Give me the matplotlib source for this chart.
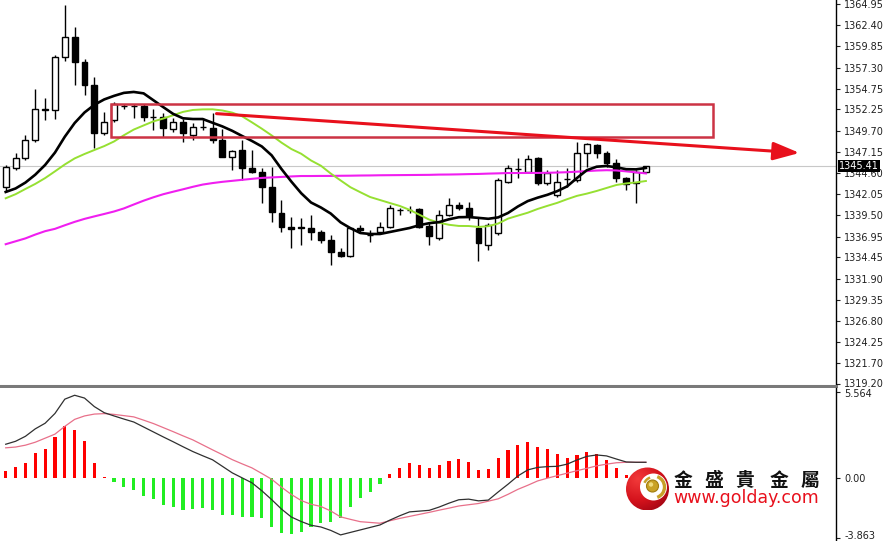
import numpy as np
import matplotlib
matplotlib.use("Agg")
import matplotlib.pyplot as plt
import matplotlib.transforms as mtransforms
from matplotlib.patches import Rectangle, Circle, Arc
from matplotlib.colors import LinearSegmentedColormap

# OHLC (66 bars)
opens = [1342.92, 1345.21, 1346.41, 1348.57, 1352.19, 1352.19, 1358.57, 1360.98, 1357.97, 1355.20,
         1349.42, 1350.98, 1352.67, 1352.67, 1352.67, 1351.34, 1351.34, 1349.90, 1350.74, 1349.17,
         1350.14, 1350.02, 1348.57, 1346.53, 1347.37, 1345.21, 1344.72, 1342.92, 1339.79, 1338.10,
         1338.05, 1337.98, 1337.50, 1336.53, 1335.09, 1334.61, 1337.98, 1337.14, 1337.50, 1338.10,
         1340.15, 1340.10, 1340.27, 1338.22, 1336.78, 1339.55, 1340.75, 1340.39, 1337.98, 1335.93,
         1337.38, 1343.52, 1345.09, 1344.72, 1346.41, 1343.40, 1341.95, 1343.88, 1343.76, 1347.01,
         1347.97, 1347.01, 1345.81, 1344.00, 1343.40, 1344.72]
highs = [1345.57, 1347.01, 1349.17, 1354.72, 1353.63, 1358.81, 1364.83, 1362.18, 1358.33, 1356.16,
         1351.95, 1353.15, 1352.91, 1352.91, 1352.91, 1352.31, 1351.83, 1351.22, 1351.10, 1350.62,
         1351.22, 1351.83, 1349.90, 1347.37, 1348.57, 1347.37, 1345.21, 1345.33, 1341.35, 1339.30,
         1339.18, 1339.55, 1337.74, 1337.14, 1335.57, 1338.10, 1338.34, 1337.74, 1338.70, 1340.75,
         1340.39, 1340.63, 1340.39, 1338.58, 1340.15, 1341.59, 1341.11, 1341.11, 1339.30, 1338.58,
         1344.00, 1345.57, 1346.41, 1346.77, 1346.53, 1344.96, 1344.96, 1345.21, 1348.33, 1348.21,
         1348.09, 1347.25, 1346.29, 1344.12, 1344.96, 1345.50]
lows = [1342.32, 1344.96, 1346.17, 1348.33, 1350.98, 1351.10, 1358.09, 1355.20, 1354.00, 1347.61,
        1349.17, 1350.74, 1352.31, 1351.22, 1350.86, 1349.78, 1348.94, 1349.54, 1348.33, 1348.57,
        1349.78, 1348.21, 1346.53, 1344.96, 1343.76, 1344.60, 1341.01, 1338.70, 1337.50, 1335.57,
        1335.93, 1336.53, 1336.17, 1333.53, 1334.49, 1334.49, 1337.38, 1336.29, 1337.38, 1338.00,
        1339.55, 1339.79, 1337.98, 1335.93, 1336.53, 1339.42, 1340.15, 1338.94, 1334.01, 1335.33,
        1337.14, 1343.40, 1344.00, 1344.60, 1343.16, 1343.16, 1341.71, 1342.92, 1343.52, 1345.33,
        1346.41, 1345.33, 1343.52, 1342.56, 1341.01, 1344.60]
closes = [1345.33, 1346.41, 1348.57, 1352.31, 1352.31, 1358.57, 1360.98, 1357.97, 1355.20, 1349.42,
          1350.74, 1352.91, 1352.70, 1352.64, 1351.34, 1351.30, 1350.02, 1350.74, 1349.42, 1350.14,
          1350.18, 1348.57, 1346.53, 1347.25, 1345.21, 1344.72, 1342.92, 1339.91, 1338.10, 1337.86,
          1337.95, 1337.50, 1336.53, 1335.09, 1334.61, 1337.98, 1337.74, 1337.18, 1338.10, 1340.39,
          1340.10, 1340.15, 1338.10, 1337.02, 1339.55, 1340.75, 1340.39, 1339.42, 1336.17, 1338.34,
          1343.76, 1345.21, 1345.05, 1346.29, 1343.40, 1344.60, 1343.52, 1343.92, 1347.01, 1348.09,
          1347.01, 1345.81, 1344.00, 1343.28, 1344.72, 1345.41]

# moving averages as drawn
ma_black = [1342.32, 1342.74, 1343.45, 1344.40, 1345.57, 1347.06, 1348.97, 1350.62, 1351.89, 1352.81,
            1353.46, 1353.89, 1354.25, 1354.36, 1354.19, 1353.36, 1352.53, 1351.72, 1351.19, 1351.10,
            1351.10, 1350.65, 1350.21, 1349.68, 1349.06, 1348.46, 1347.80, 1346.73, 1345.08, 1343.57,
            1342.17, 1341.05, 1340.45, 1339.72, 1338.66, 1337.96, 1337.38, 1337.26, 1337.26, 1337.50,
            1337.74, 1337.98, 1338.32, 1338.56, 1338.69, 1339.03, 1339.28, 1339.30, 1339.20, 1339.09,
            1339.26, 1339.79, 1340.57, 1341.22, 1341.63, 1341.98, 1342.42, 1342.99, 1344.00, 1344.94,
            1345.36, 1345.45, 1345.29, 1345.06, 1345.04, 1345.21]
ma_green = [1341.56, 1342.05, 1342.68, 1343.29, 1343.99, 1344.80, 1345.63, 1346.36, 1346.89, 1347.37,
            1347.84, 1348.40, 1349.15, 1349.83, 1350.33, 1350.82, 1351.16, 1351.56, 1351.96, 1352.19,
            1352.26, 1352.27, 1352.13, 1351.87, 1351.43, 1350.70, 1349.94, 1349.13, 1348.26, 1347.49,
            1346.92, 1346.11, 1345.48, 1344.54, 1343.71, 1342.89, 1342.29, 1341.71, 1341.35, 1340.99,
            1340.64, 1340.17, 1339.58, 1338.99, 1338.62, 1338.37, 1338.23, 1338.22, 1338.11, 1338.20,
            1338.52, 1339.11, 1339.47, 1339.82, 1340.27, 1340.65, 1341.01, 1341.45, 1341.85, 1342.12,
            1342.44, 1342.80, 1343.16, 1343.35, 1343.47, 1343.64]
ma_magenta = [1336.03, 1336.38, 1336.73, 1337.19, 1337.60, 1337.88, 1338.31, 1338.72, 1339.08, 1339.38,
              1339.67, 1339.97, 1340.34, 1340.81, 1341.27, 1341.68, 1342.05, 1342.35, 1342.64, 1342.94,
              1343.21, 1343.39, 1343.54, 1343.66, 1343.78, 1343.90, 1344.01, 1344.07, 1344.13, 1344.19,
              1344.24, 1344.24, 1344.25, 1344.25, 1344.27, 1344.28, 1344.30, 1344.31, 1344.33, 1344.34,
              1344.35, 1344.36, 1344.37, 1344.38, 1344.41, 1344.42, 1344.44, 1344.47, 1344.49, 1344.53,
              1344.56, 1344.60, 1344.60, 1344.61, 1344.61, 1344.63, 1344.66, 1344.70, 1344.76, 1344.83,
              1344.90, 1344.94, 1344.91, 1344.80, 1344.68, 1344.55]

# MACD panel
macd_hist = [0.49, 0.71, 1.00, 1.65, 1.86, 2.68, 3.38, 3.11, 2.40, 0.96,
             0.08, -0.22, -0.54, -0.75, -1.14, -1.35, -1.72, -1.83, -2.04, -1.97,
             -1.93, -2.04, -2.36, -2.36, -2.47, -2.47, -2.55, -3.11, -3.50, -3.58,
             -3.43, -3.11, -2.89, -2.79, -2.55, -1.83, -1.27, -0.86, -0.37, 0.26,
             0.68, 0.96, 0.86, 0.64, 0.86, 1.11, 1.24, 1.07, 0.53, 0.58,
             1.29, 1.82, 2.14, 2.35, 2.03, 1.88, 1.54, 1.32, 1.50, 1.67,
             1.54, 1.18, 0.68, 0.21, 0.05, 0.02]
macd_dif = [2.19, 2.38, 2.70, 3.18, 3.54, 4.17, 5.09, 5.34, 5.16, 4.61,
            4.22, 4.01, 3.81, 3.62, 3.30, 2.98, 2.66, 2.35, 2.03, 1.72,
            1.45, 1.19, 0.77, 0.35, 0.03, -0.29, -0.80, -1.37, -1.98, -2.49,
            -2.78, -3.02, -3.13, -3.35, -3.64, -3.48, -3.32, -3.16, -3.00, -2.69,
            -2.41, -2.16, -2.11, -2.06, -1.85, -1.60, -1.38, -1.34, -1.45, -1.40,
            -0.88, -0.38, 0.15, 0.54, 0.70, 0.75, 0.77, 0.91, 1.18, 1.41,
            1.50, 1.44, 1.24, 1.05, 1.03, 1.03]
macd_dea = [1.96, 2.01, 2.13, 2.32, 2.58, 2.84, 3.34, 3.79, 4.01, 4.13,
            4.16, 4.11, 4.03, 3.95, 3.74, 3.52, 3.26, 3.00, 2.73, 2.47,
            2.15, 1.83, 1.52, 1.20, 0.93, 0.67, 0.31, -0.06, -0.57, -1.04,
            -1.43, -1.67, -1.81, -2.10, -2.48, -2.64, -2.79, -2.84, -2.89, -2.73,
            -2.58, -2.45, -2.32, -2.19, -2.05, -1.92, -1.78, -1.70, -1.62, -1.47,
            -1.32, -1.03, -0.71, -0.45, -0.17, 0.01, 0.17, 0.33, 0.49, 0.64,
            0.80, 0.91, 1.00, 1.03, 1.03, 1.03]

price_ticks = ["1364.95", "1362.40", "1359.85", "1357.30", "1354.75", "1352.25", "1349.70",
               "1347.15", "1344.60", "1342.05", "1339.50", "1336.95", "1334.45", "1331.90",
               "1329.35", "1326.80", "1324.25", "1321.70", "1319.20"]
macd_ticks = ["5.564", "0.00", "-3.863"]
last_price = 1345.41

# drawn objects (resistance box and trend arrow)
box_x = (10.66, 71.8)
box_y = (1348.88, 1352.91)
arrow_from = (21.4, 1351.75)
arrow_to = (80.6, 1347.02)

W, H = 890, 541
fig = plt.figure(figsize=(W / 100, H / 100), dpi=100)
fig.patch.set_facecolor("white")

ax = fig.add_axes([0, (H - 386) / H, 836 / W, 386 / H])
ax2 = fig.add_axes([0, 0, 836 / W, 153 / H])

x = np.arange(len(opens))
xlim = (-0.58, 84.3)

# candles
o = np.array(opens)
c = np.array(closes)
up = c >= o
ax.vlines(x, lows, highs, color="black", lw=1, zorder=2)
ax.bar(x, c - o, bottom=o, width=0.6,
       color=np.where(up, "white", "black"), edgecolor="black", lw=1, zorder=3)

ax.axhline(last_price, color="#c8c8c8", lw=0.8, zorder=1)
ax.plot(x, ma_magenta, color="#f01ef0", lw=1.5, zorder=4)
ax.plot(x, ma_green, color="#96e032", lw=1.4, zorder=4)
ax.plot(x, ma_black, color="black", lw=1.9, zorder=4)

ax.add_patch(Rectangle((box_x[0], box_y[0]), box_x[1] - box_x[0], box_y[1] - box_y[0],
                       fill=False, ec="#cc3344", lw=1.8, zorder=5))
ax.annotate("", xy=arrow_to, xytext=arrow_from,
            arrowprops=dict(arrowstyle="-|>,head_length=1.6,head_width=0.55",
                            color="#e8101c", lw=2.2, shrinkA=0, shrinkB=0),
            zorder=6, annotation_clip=False)

ax.set_xlim(*xlim)
ax.set_ylim(1318.96, 1365.43)
ax.set_yticks([float(t) for t in price_ticks])
ax.set_yticklabels(price_ticks)
ax.set_xticks([])

# MACD
hist = np.array(macd_hist)
ax2.bar(x, hist, width=0.32, color=np.where(hist >= 0, "#ff0000", "#22ee22"), zorder=2)
ax2.plot(x, macd_dea, color="#e8708a", lw=0.9, zorder=3)
ax2.plot(x, macd_dif, color="#303030", lw=0.9, zorder=3)
ax2.set_xlim(*xlim)
ax2.set_ylim(-4.032, 5.807)
ax2.set_yticks([float(t) for t in macd_ticks])
ax2.set_yticklabels(macd_ticks)
ax2.set_xticks([])

for a in (ax, ax2):
    a.set_facecolor("white")
    for s in ("left", "top", "bottom"):
        a.spines[s].set_visible(False)
    a.spines["right"].set_color("black")
    a.spines["right"].set_linewidth(1)
    a.yaxis.tick_right()
    a.tick_params(axis="y", direction="out", length=3, width=0.8, pad=3,
                  labelsize=7, labelcolor="#202020", colors="#202020")

ax.spines["bottom"].set_visible(True)
ax.spines["bottom"].set_color("#7a7a7a")
ax.spines["bottom"].set_linewidth(2.2)

# keep the edge labels inside the picture, as in the reference
fig.canvas.draw()
lbls = ax2.get_yticklabels()
lbls[-1].set_transform(lbls[-1].get_transform() +
                       mtransforms.ScaledTranslation(0, 3 / 100, fig.dpi_scale_trans))
lbls[0].set_transform(lbls[0].get_transform() +
                      mtransforms.ScaledTranslation(0, -1 / 100, fig.dpi_scale_trans))
plbls = ax.get_yticklabels()
plbls[-1].set_transform(plbls[-1].get_transform() +
                        mtransforms.ScaledTranslation(0, 1 / 100, fig.dpi_scale_trans))

trans = mtransforms.blended_transform_factory(ax.transAxes, ax.transData)
ax.text(1.004, last_price, f"{last_price:.2f}", transform=trans, fontsize=7, color="white",
        va="center", ha="left", clip_on=False, zorder=10,
        bbox=dict(boxstyle="square,pad=0.12", fc="black", ec="none"))

# logo overlay in pixel coordinates
lg = fig.add_axes([0, 0, 1, 1], zorder=20)
lg.set_xlim(0, W)
lg.set_ylim(H, 0)
lg.axis("off")
lg.patch.set_alpha(0)

cx, cy, r = 647.5, 489, 21.5
gx, gy = np.meshgrid(np.linspace(-1, 1, 120), np.linspace(-1, 1, 120))
shade = np.sqrt((gx + 0.45) ** 2 + (gy + 0.45) ** 2)
cmap = LinearSegmentedColormap.from_list("ball", ["#f23a3a", "#d4121c", "#8c0010"])
img = lg.imshow(shade, cmap=cmap, extent=[cx - r, cx + r, cy + r, cy - r],
                origin="upper", zorder=1, interpolation="bilinear")
clip = Circle((cx, cy), r, transform=lg.transData)
img.set_clip_path(clip)
lg.add_patch(Circle((cx + 6, cy - 2), 13.5, fc="white", ec="none", zorder=2))
lg.add_patch(Arc((cx + 6, cy - 2), 22, 22, theta1=-70, theta2=70, color="#c8a028", lw=2.4, zorder=3))
lg.add_patch(Arc((cx + 6, cy - 2), 20, 20, theta1=205, theta2=250, color="#c8a028", lw=1.8, zorder=3))
lg.add_patch(Circle((cx + 5, cy - 3), 6, fc="#c9a227", ec="#a07c10", lw=0.8, zorder=4))
lg.add_patch(Circle((cx + 3.5, cy - 4.5), 2.2, fc="#f0dc80", ec="none", zorder=5))

for ch, px in zip("金盛貴金屬", [683, 714, 745, 779, 810]):
    lg.text(px, 480, ch, fontsize=13.5, family=["Noto Sans CJK TC", "DejaVu Sans"],
            weight="bold", ha="center", va="center", color="#111111", zorder=6)
lg.text(746.5, 498, "www.golday.com", fontsize=12.5, family="DejaVu Sans",
        ha="center", va="center", color="#e8101c", zorder=6)

fig.savefig("out.png", dpi=100, facecolor="white")
